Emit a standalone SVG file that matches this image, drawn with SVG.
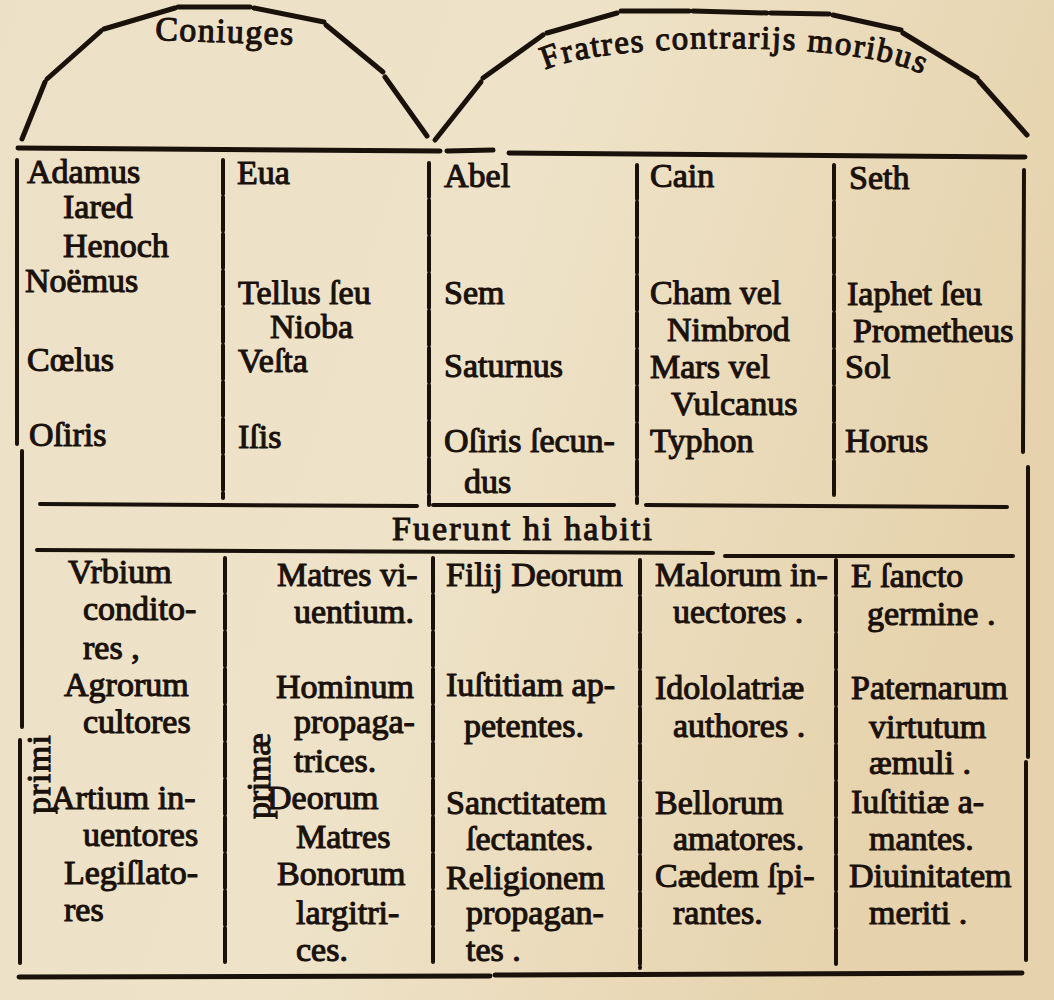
<svg xmlns="http://www.w3.org/2000/svg" width="1054" height="1000" viewBox="0 0 1054 1000">
<defs>
<linearGradient id="paper" x1="0" y1="0" x2="1" y2="0.3">
<stop offset="0" stop-color="#ece1c6"/>
<stop offset="0.5" stop-color="#eee3c9"/>
<stop offset="1" stop-color="#e6d3ad"/>
</linearGradient>
<path id="arc" d="M 545,70 C 600,42 860,38 925,76"/>
<style>
.t{font-family:"Liberation Serif","Times New Roman",serif;font-size:34px;fill:#1a110b;stroke:#1a110b;stroke-width:1.1;stroke-linejoin:round}
.r{stroke:#1a110b;stroke-width:4;stroke-linecap:round;fill:none}
.h{stroke-width:5}
.d{stroke-dasharray:34 3}
</style>
</defs>
<rect width="1054" height="1000" fill="url(#paper)"/>

<g id="connectors">
<g id="arch-left" class="r h">
<line x1="22" y1="139" x2="45" y2="82"/>
<line x1="47" y1="79" x2="101" y2="31"/>
<line x1="104" y1="29" x2="175" y2="8"/>
<line x1="178" y1="7" x2="250" y2="7"/>
<line x1="254" y1="8" x2="324" y2="22"/>
<line x1="326" y1="25" x2="383" y2="72"/>
<line x1="385" y1="77" x2="427" y2="136"/>
</g>
<g id="arch-right" class="r h">
<line x1="435" y1="140" x2="481" y2="82"/>
<line x1="483" y1="78" x2="543" y2="35"/>
<line x1="547" y1="33" x2="617" y2="13"/>
<line x1="621" y1="11" x2="689" y2="11"/>
<line x1="693" y1="11" x2="767" y2="13"/>
<line x1="771" y1="13" x2="829" y2="14"/>
<line x1="833" y1="15" x2="901" y2="30"/>
<line x1="903" y1="33" x2="977" y2="78"/>
<line x1="979" y1="81" x2="1027" y2="135"/>
</g>
<g id="horizontal-rules" class="r">
<line class="h" x1="18" y1="148" x2="440" y2="151"/>
<line class="h" x1="447" y1="151" x2="493" y2="150"/>
<line class="h" x1="509" y1="153" x2="1025" y2="157"/>
<line x1="40" y1="504" x2="417" y2="506"/>
<line x1="433" y1="505" x2="614" y2="505"/>
<line x1="646" y1="505" x2="1007" y2="507"/>
<line x1="37" y1="550" x2="713" y2="553"/>
<line x1="725" y1="556" x2="1013" y2="556"/>
<line class="h" x1="19" y1="977" x2="490" y2="976"/>
<line class="h" x1="495" y1="975" x2="1022" y2="973"/>
</g>
<g id="vertical-rules" class="r">
<line x1="17" y1="160" x2="17" y2="444"/>
<line x1="22" y1="451" x2="22" y2="727"/>
<line x1="20" y1="740" x2="20" y2="963"/>
<line x1="1024" y1="170" x2="1023" y2="452"/>
<line x1="1028" y1="467" x2="1028" y2="757"/>
<line x1="1026" y1="762" x2="1026" y2="960"/>
<line class="d" x1="223" y1="160" x2="223" y2="498"/>
<line class="d" x1="429" y1="163" x2="429" y2="505"/>
<line class="d" x1="637" y1="165" x2="637" y2="503"/>
<line class="d" x1="834" y1="165" x2="834" y2="496"/>
<line class="d" x1="225" y1="558" x2="225" y2="963"/>
<line class="d" x1="433" y1="558" x2="433" y2="963"/>
<line class="d" x1="640" y1="560" x2="640" y2="968"/>
<line class="d" x1="836" y1="560" x2="836" y2="965"/>
</g>
</g>

<g id="header-coniuges">
<text class="t" x="155" y="40" textLength="138" transform="rotate(2 155 40)">Coniuges</text>
</g>
<g id="header-fratres">
<text class="t" style="font-size:33px"><textPath href="#arc" textLength="382">Fratres contrarijs moribus</textPath></text>
</g>

<g id="col1-upper">
<text class="t" x="27" y="183">Adamus</text>
<text class="t" x="63" y="218">Iared</text>
<text class="t" x="63" y="257">Henoch</text>
<text class="t" x="25" y="292">Noëmus</text>
<text class="t" x="27" y="371">Cœlus</text>
<text class="t" x="29" y="446">Oſiris</text>
</g>
<g id="col2-upper">
<text class="t" x="237" y="184">Eua</text>
<text class="t" x="238" y="304">Tellus ſeu</text>
<text class="t" x="270" y="338">Nioba</text>
<text class="t" x="238" y="372">Veſta</text>
<text class="t" x="238" y="448">Iſis</text>
</g>
<g id="col3-upper">
<text class="t" x="444" y="187">Abel</text>
<text class="t" x="444" y="304">Sem</text>
<text class="t" x="444" y="377">Saturnus</text>
<text class="t" x="444" y="452">Oſiris ſecun-</text>
<text class="t" x="464" y="493">dus</text>
</g>
<g id="col4-upper">
<text class="t" x="650" y="187">Cain</text>
<text class="t" x="650" y="304">Cham vel</text>
<text class="t" x="667" y="341">Nimbrod</text>
<text class="t" x="650" y="378">Mars vel</text>
<text class="t" x="671" y="415">Vulcanus</text>
<text class="t" x="650" y="452">Typhon</text>
</g>
<g id="col5-upper">
<text class="t" x="849" y="189">Seth</text>
<text class="t" x="847" y="305">Iaphet ſeu</text>
<text class="t" x="853" y="342">Prometheus</text>
<text class="t" x="845" y="378">Sol</text>
<text class="t" x="845" y="452">Horus</text>
</g>

<g id="caption">
<text class="t" x="392" y="540" textLength="260">Fuerunt hi habiti</text>
</g>

<g id="col1-lower">
<text class="t" x="50" y="814" textLength="79" transform="rotate(-90 50 814)">primi</text>
<text class="t" x="68" y="583">Vrbium</text>
<text class="t" x="83" y="620">condito-</text>
<text class="t" x="83" y="659">res ,</text>
<text class="t" x="64" y="696">Agrorum</text>
<text class="t" x="83" y="733">cultores</text>
<text class="t" x="51" y="809">Artium in-</text>
<text class="t" x="83" y="846">uentores</text>
<text class="t" x="64" y="884">Legiſlato-</text>
<text class="t" x="64" y="921">res</text>
</g>
<g id="col2-lower">
<text class="t" x="270" y="819" textLength="86" transform="rotate(-90 270 819)">primæ</text>
<text class="t" x="277" y="586">Matres vi-</text>
<text class="t" x="294" y="623">uentium.</text>
<text class="t" x="276" y="698">Hominum</text>
<text class="t" x="294" y="733">propaga-</text>
<text class="t" x="294" y="772">trices.</text>
<text class="t" x="267" y="809">Deorum</text>
<text class="t" x="296" y="848">Matres</text>
<text class="t" x="277" y="885">Bonorum</text>
<text class="t" x="296" y="924">largitri-</text>
<text class="t" x="296" y="961">ces.</text>
</g>
<g id="col3-lower">
<text class="t" x="446" y="586">Filij Deorum</text>
<text class="t" x="446" y="696">Iuſtitiam ap-</text>
<text class="t" x="464" y="737">petentes.</text>
<text class="t" x="446" y="814">Sanctitatem</text>
<text class="t" x="466" y="850">ſectantes.</text>
<text class="t" x="446" y="889">Religionem</text>
<text class="t" x="466" y="924">propagan-</text>
<text class="t" x="466" y="961">tes .</text>
</g>
<g id="col4-lower">
<text class="t" x="655" y="586">Malorum in-</text>
<text class="t" x="673" y="623">uectores .</text>
<text class="t" x="655" y="699">Idololatriæ</text>
<text class="t" x="673" y="737">authores .</text>
<text class="t" x="655" y="814">Bellorum</text>
<text class="t" x="673" y="850">amatores.</text>
<text class="t" x="655" y="887">Cædem ſpi-</text>
<text class="t" x="673" y="924">rantes.</text>
</g>
<g id="col5-lower">
<text class="t" x="851" y="587">E ſancto</text>
<text class="t" x="867" y="625">germine .</text>
<text class="t" x="851" y="699">Paternarum</text>
<text class="t" x="869" y="738">virtutum</text>
<text class="t" x="869" y="774">æmuli .</text>
<text class="t" x="851" y="813">Iuſtitiæ a-</text>
<text class="t" x="869" y="850">mantes.</text>
<text class="t" x="849" y="887">Diuinitatem</text>
<text class="t" x="869" y="924">meriti .</text>
</g>
</svg>
